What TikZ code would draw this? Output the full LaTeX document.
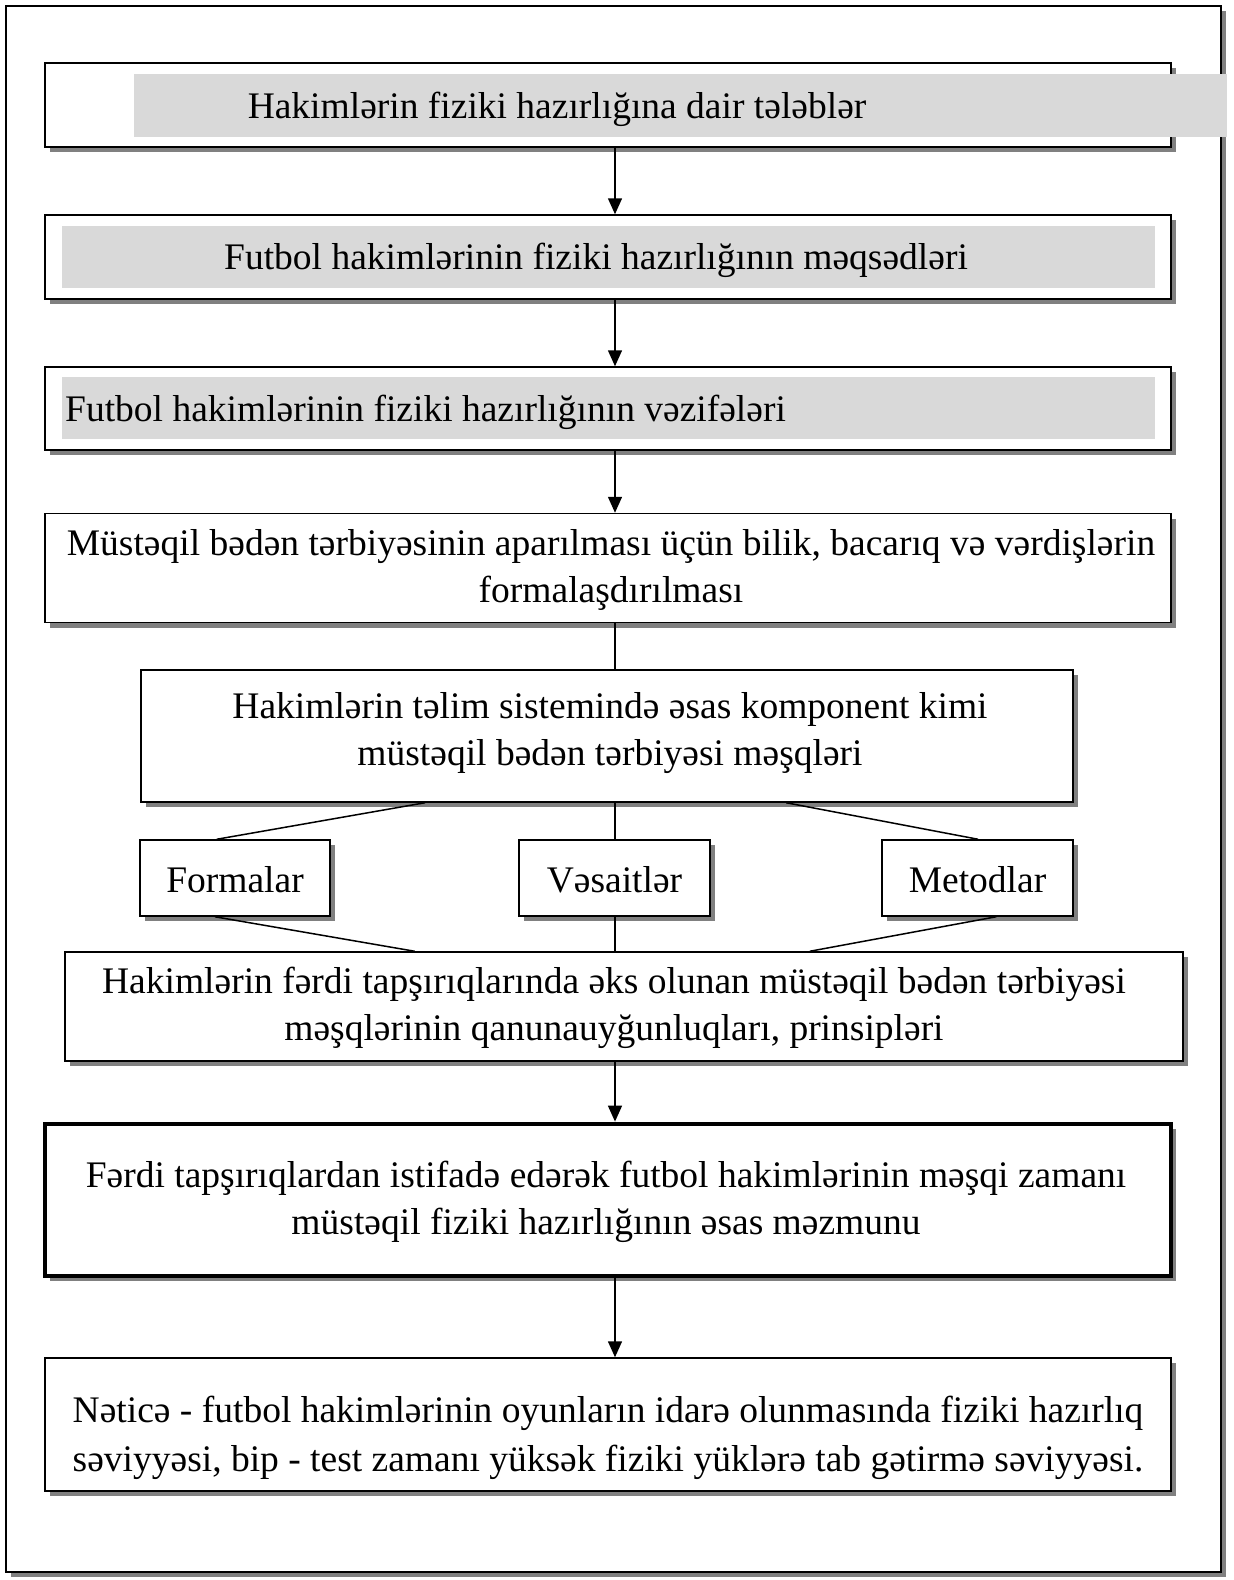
\documentclass[tikz,border=0pt]{standalone}
\usepackage{fontspec}
\setmainfont{Liberation Serif}
\usetikzlibrary{arrows.meta,shadows,calc}
\begin{document}
\begin{tikzpicture}[x=1pt,y=-1pt,
  shd/.style={drop shadow={shadow xshift=5pt,shadow yshift=-5pt,fill=black!50,opacity=1}},
  box/.style={draw=black,line width=1.5pt,fill=white,shd,inner sep=0pt,rectangle},
  thickbox/.style={box,line width=4.8pt},
  band/.style={fill=black!15,draw=none,inner sep=0pt,rectangle},
  txt/.style={font=\fontsize{37.5}{47}\selectfont,align=center,inner sep=0pt},
  arr/.style={line width=1.5pt,-{Triangle[length=16pt,width=14pt]}},
  ln/.style={line width=1.5pt}
]
\useasboundingbox (0,0) rectangle (1234,1580);
\fill[white] (0,0) rectangle (1234,1580);
\coordinate (ax) at (615,0);

\node[box,minimum width=1215pt,minimum height=1566pt] (frame) at (613.5,789) {};

\node[box,minimum width=1126pt,minimum height=84pt] (b1) at (608,105) {};
\node[band,minimum width=1093pt,minimum height=63pt] (band1) at (680.5,105.5) {};
\node[txt] (t1) at (557,109) {Hakimlərin fiziki hazırlığına dair tələblər};

\node[box,minimum width=1126pt,minimum height=84pt] (b2) at (608,257) {};
\node[band,minimum width=1093pt,minimum height=62pt] (band2) at (608.5,257) {};
\node[txt] (t2) at (596,260) {Futbol hakimlərinin fiziki hazırlığının məqsədləri};

\node[box,minimum width=1126pt,minimum height=83pt] (b3) at (608,408.5) {};
\node[band,minimum width=1093pt,minimum height=62pt] (band3) at (608.5,408) {};
\node[txt,anchor=west] (t3) at (65,412) {Futbol hakimlərinin fiziki hazırlığının vəzifələri};

\node[box,minimum width=1126pt,minimum height=109pt] (b4) at (608,568) {};
\node[txt] (t4) at (611,570)
  {Müstəqil bədən tərbiyəsinin aparılması üçün bilik, bacarıq və vərdişlərin\\formalaşdırılması};

\node[box,minimum width=932pt,minimum height=132pt] (b5) at (607,736) {};
\node[txt] (t5) at (610,733)
  {Hakimlərin təlim sistemində əsas komponent kimi\\müstəqil bədən tərbiyəsi məşqləri};

\node[box,minimum width=190pt,minimum height=76pt] (f1) at (235,878) {};
\node[txt] (tf1) at (235,880) {Formalar};
\node[box,minimum width=191pt,minimum height=76pt] (f2) at (614.5,878) {};
\node[txt] (tf2) at (614.5,880) {Vəsaitlər};
\node[box,minimum width=191pt,minimum height=76pt] (f3) at (977.5,878) {};
\node[txt] (tf3) at (977.5,880) {Metodlar};

\node[box,minimum width=1118pt,minimum height=109pt] (b6) at (624,1006.5) {};
\node[txt] (t6) at (614,1008)
  {Hakimlərin fərdi tapşırıqlarında əks olunan müstəqil bədən tərbiyəsi\\məşqlərinin qanunauyğunluqları, prinsipləri};

\node[thickbox,minimum width=1126pt,minimum height=152pt] (b7) at (608,1200) {};
\node[txt] (t7) at (606,1202)
  {Fərdi tapşırıqlardan istifadə edərək futbol hakimlərinin məşqi zamanı\\müstəqil fiziki hazırlığının əsas məzmunu};

\node[box,minimum width=1126pt,minimum height=133pt] (b8) at (608,1424.5) {};
\node[txt,font=\fontsize{37.5}{49}\selectfont] (t8) at (608,1438)
  {Nəticə - futbol hakimlərinin oyunların idarə olunmasında fiziki hazırlıq\\səviyyəsi, bip - test zamanı yüksək fiziki yüklərə tab gətirmə səviyyəsi.};

\draw[arr] (b1.south -| ax) -- (b2.north -| ax);
\draw[arr] (b2.south -| ax) -- (b3.north -| ax);
\draw[arr] (b3.south -| ax) -- (b4.north -| ax);
\draw[ln] (b4.south -| ax) -- (b5.north -| ax);
\draw[ln] ($(b5.south west)!0.305!(b5.south east)$) -- ($(f1.north west)!0.405!(f1.north east)$);
\draw[ln] (b5.south -| ax) -- (f2.north -| ax);
\draw[ln] ($(b5.south west)!0.692!(b5.south east)$) -- ($(f3.north west)!0.503!(f3.north east)$);
\draw[ln] ($(f1.south west)!0.395!(f1.south east)$) -- ($(b6.north west)!0.313!(b6.north east)$);
\draw[ln] (f2.south -| ax) -- (b6.north -| ax);
\draw[ln] ($(f3.south west)!0.597!(f3.south east)$) -- ($(b6.north west)!0.666!(b6.north east)$);
\draw[arr] (b6.south -| ax) -- (b7.north -| ax);
\draw[arr] (b7.south -| ax) -- (b8.north -| ax);
\end{tikzpicture}
\end{document}
